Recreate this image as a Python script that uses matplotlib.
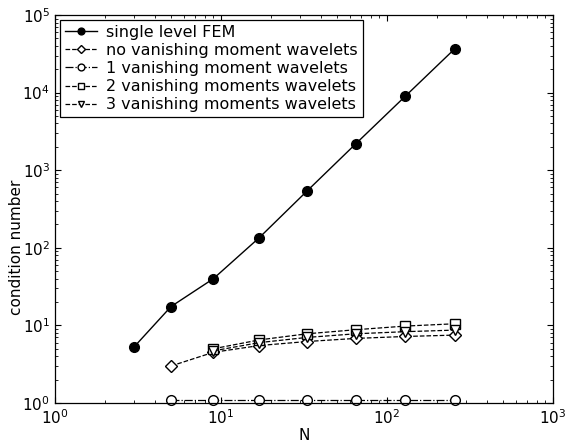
import matplotlib
matplotlib.use("Agg")
import matplotlib.pyplot as plt

# problem sizes
N_fem = [3, 5, 9, 17, 33, 65, 129, 257]
N_wav0 = [5, 9, 17, 33, 65, 129, 257]
N_wav = [9, 17, 33, 65, 129, 257]
N_wav1 = [5, 9, 17, 33, 65, 129, 257]

# condition numbers
cond_fem = [5.3, 17.5, 40, 135, 540, 2200, 9000, 37000]
cond_vm0 = [3.0, 4.5, 5.5, 6.2, 6.8, 7.2, 7.5]
cond_vm1 = [1.1, 1.1, 1.1, 1.1, 1.1, 1.1, 1.1]
cond_vm2 = [5.0, 6.5, 7.8, 8.8, 9.8, 10.5]
cond_vm3 = [4.7, 6.0, 7.0, 7.8, 8.3, 8.7]

labels = ["single level FEM",
          "no vanishing moment wavelets",
          "1 vanishing moment wavelets",
          "2 vanishing moments wavelets",
          "3 vanishing moments wavelets"]

plt.rcParams['font.family'] = ['DejaVu Sans']
fig = plt.figure(figsize=(5.65, 4.44), dpi=100)
ax = fig.add_axes([55/565, 1-403/444, (553-55)/565, (403-15)/444])

ax.loglog(N_fem, cond_fem, '-', color='black', lw=1.0, marker='o', ms=7,
          mfc='black', mec='black', label=labels[0])
ax.loglog(N_wav0, cond_vm0, '--', color='black', lw=0.9, marker='D', ms=6,
          mfc='white', mec='black', label=labels[1])
ax.loglog(N_wav1, cond_vm1, '-.', color='black', lw=0.9, marker='o', ms=7,
          mfc='white', mec='black', label=labels[2], clip_on=False)
ax.loglog(N_wav, cond_vm2, '--', color='black', lw=0.9, marker='s', ms=7,
          mfc='white', mec='black', label=labels[3])
ax.loglog(N_wav, cond_vm3, '--', color='black', lw=0.9, marker='v', ms=7,
          mfc='white', mec='black', label=labels[4])

ax.set_xlim(1, 1000)
ax.set_ylim(1, 1e5)
ax.set_xlabel("N", fontsize=11, labelpad=1)
ax.set_ylabel("condition number", fontsize=11)
ax.yaxis.set_label_coords(-0.062, 0.40)
ax.tick_params(which='both', direction='in', top=True, right=True, labelsize=11)
ax.tick_params(which='major', length=4)
ax.tick_params(which='minor', length=2)
for s in ax.spines.values():
    s.set_linewidth(0.9)

leg = ax.legend(loc='upper left', fontsize=11.5, frameon=True, fancybox=False,
                edgecolor='black', framealpha=1, borderaxespad=0.3,
                handlelength=2.0, labelspacing=0.2, borderpad=0.3,
                markerscale=0.7, handletextpad=0.6)
leg.get_frame().set_linewidth(0.9)

fig.savefig("out.png", dpi=100)
